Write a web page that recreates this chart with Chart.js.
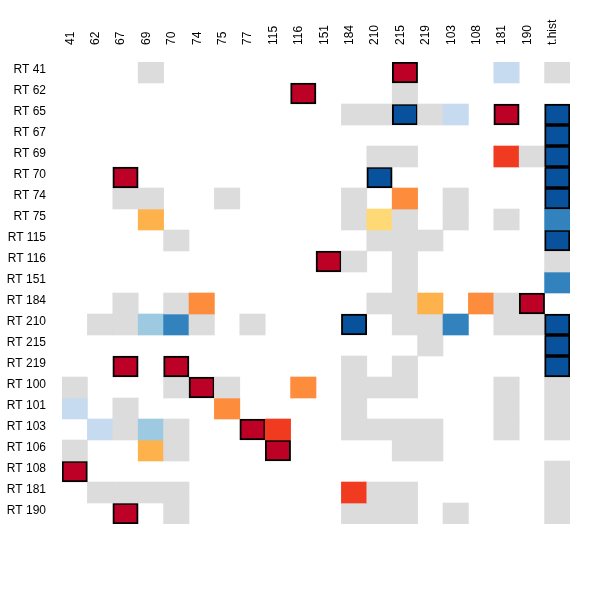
<!DOCTYPE html>
<html>
<head>
<meta charset="utf-8">
<script src="https://cdn.jsdelivr.net/npm/chart.js@4"></script>
<style>
  html, body { margin: 0; padding: 0; background: #ffffff; }
  #wrap { width: 600px; height: 600px; }
</style>
</head>
<body>
<div id="wrap"><canvas id="c" width="600" height="600"></canvas></div>
<script>
// Column (target) labels
const colLabels = ['41','62','67','69','70','74','75','77','115','116','151','184','210','215','219','103','108','181','190','t.hist'];
// Row labels
const rowLabels = ['RT 41','RT 62','RT 65','RT 67','RT 69','RT 70','RT 74','RT 75','RT 115','RT 116','RT 151','RT 184','RT 210','RT 215','RT 219','RT 100','RT 101','RT 103','RT 106','RT 108','RT 181','RT 190'];

// Cell levels per row (null = empty, 0 = grey, 1..5 = yellow->dark red, -1..-4 = light->dark blue)
const _ = null;
const rt41  = [_,_,_,0,_,_,_,_,_,_,_,_,_,5,_,_,_,-1,_,0];
const rt62  = [_,_,_,_,_,_,_,_,_,5,_,_,_,0,_,_,_,_,_,_];
const rt65  = [_,_,_,_,_,_,_,_,_,_,_,0,0,-4,0,-1,_,5,_,-4];
const rt67  = [_,_,_,_,_,_,_,_,_,_,_,_,_,_,_,_,_,_,_,-4];
const rt69  = [_,_,_,_,_,_,_,_,_,_,_,_,0,0,_,_,_,4,0,-4];
const rt70  = [_,_,5,_,_,_,_,_,_,_,_,_,-4,_,_,_,_,_,_,-4];
const rt74  = [_,_,0,0,_,_,0,_,_,_,_,0,_,3,_,0,_,_,_,-4];
const rt75  = [_,_,_,2,_,_,_,_,_,_,_,0,1,0,_,0,_,0,_,-3];
const rt115 = [_,_,_,_,0,_,_,_,_,_,_,_,0,0,0,_,_,_,_,-4];
const rt116 = [_,_,_,_,_,_,_,_,_,_,5,0,_,0,_,_,_,_,_,0];
const rt151 = [_,_,_,_,_,_,_,_,_,_,_,_,_,0,_,_,_,_,_,-3];
const rt184 = [_,_,0,_,0,3,_,_,_,_,_,_,0,0,2,_,3,0,5,_];
const rt210 = [_,0,0,-2,-3,0,_,0,_,_,_,-4,_,0,0,-3,_,0,0,-4];
const rt215 = [_,_,_,_,_,_,_,_,_,_,_,_,_,_,0,_,_,_,_,-4];
const rt219 = [_,_,5,_,5,_,_,_,_,_,_,0,_,0,_,_,_,_,_,-4];
const rt100 = [0,_,_,_,0,5,0,_,_,3,_,0,0,0,_,_,_,0,_,0];
const rt101 = [-1,_,0,_,_,_,3,_,_,_,_,0,_,_,_,_,_,0,_,0];
const rt103 = [_,-1,0,-2,0,_,_,5,4,_,_,0,0,0,0,_,_,0,_,0];
const rt106 = [0,_,_,2,0,_,_,_,5,_,_,_,_,0,0,_,_,_,_,_];
const rt108 = [5,_,_,_,_,_,_,_,_,_,_,_,_,_,_,_,_,_,_,0];
const rt181 = [_,0,0,0,0,_,_,_,_,_,_,4,0,0,_,_,_,_,_,0];
const rt190 = [_,_,5,_,0,_,_,_,_,_,_,0,0,0,_,0,_,_,_,0];
const rowValues = [rt41,rt62,rt65,rt67,rt69,rt70,rt74,rt75,rt115,rt116,rt151,rt184,rt210,rt215,rt219,rt100,rt101,rt103,rt106,rt108,rt181,rt190];

// Outlined cells [row, col]
const boxedCells = [[0,13],[1,9],[2,13],[2,17],[2,19],[3,19],[4,19],[5,2],[5,12],[5,19],[6,19],[8,19],[9,10],[11,18],[12,11],[12,19],[13,19],[14,2],[14,4],[14,19],[15,5],[17,7],[18,8],[19,0],[21,2]];

const levelColors = {
  '0': '#DCDCDC',
  '1': '#FED976', '2': '#FEB24C', '3': '#FD8D3C', '4': '#F03B20', '5': '#BD0026',
  '-1': '#C6DBEF', '-2': '#9ECAE1', '-3': '#3182BD', '-4': '#08519C'
};

const isBoxed = (r, c) => boxedCells.some(b => b[0] === r && b[1] === c);

const datasets = rowValues.map((vals, r) => ({
  label: rowLabels[r],
  data: vals.map(v => v === null ? null : [r, r + 1]),
  backgroundColor: vals.map(v => v === null ? 'rgba(0,0,0,0)' : levelColors[String(v)]),
  borderColor: '#000000',
  borderWidth: vals.map((v, c) => isBoxed(r, c) ? 2 : 0),
  borderSkipped: false,
  grouped: false,
  barPercentage: 1,
  categoryPercentage: 1
}));

new Chart(document.getElementById('c'), {
  type: 'bar',
  data: { labels: colLabels, datasets },
  options: {
    responsive: false,
    animation: false,
    layout: { padding: { left: 0, right: 30, top: 0, bottom: 76 } },
    plugins: { legend: { display: false }, tooltip: { enabled: false } },
    scales: {
      x: {
        type: 'category',
        position: 'top',
        grid: { display: false },
        border: { display: false },
        ticks: {
          autoSkip: false, minRotation: 90, maxRotation: 90,
          padding: 9, labelOffset: 10, color: '#000',
          font: { family: 'Liberation Sans, Arial, sans-serif', size: 12 }
        },
        afterFit: s => { s.height = 62; }
      },
      y: {
        type: 'linear',
        min: 0, max: rowLabels.length,
        reverse: true,
        grid: { display: false },
        border: { display: false },
        afterBuildTicks: s => { s.ticks = rowLabels.map((_, j) => ({ value: j + 0.5 })); },
        ticks: {
          autoSkip: false, padding: 8, labelOffset: -3, color: '#000',
          font: { family: 'Liberation Sans, Arial, sans-serif', size: 12 },
          callback: v => rowLabels[Math.floor(v)]
        },
        afterFit: s => { s.width = 62; }
      }
    }
  }
});
</script>
</body>
</html>
